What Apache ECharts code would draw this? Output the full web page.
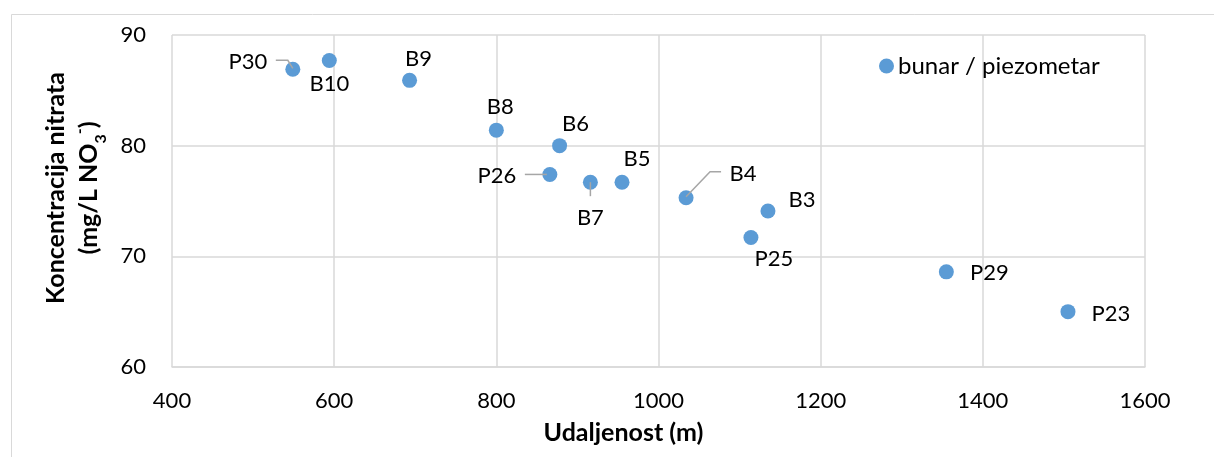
<!DOCTYPE html>
<html>
<head>
<meta charset="utf-8">
<script src="https://cdn.jsdelivr.net/npm/echarts@6/dist/echarts.min.js"></script>
<style>
html,body{margin:0;padding:0;background:#fff;}
#chart{width:1214px;height:457px;}
</style>
</head>
<body>
<div id="chart"></div>
<script>
// ---- data ----
const pointNames = ['P30','B10','B9','B8','B6','P26','B7','B5','B4','B3','P25','P29','P23'];
const distances  = [549, 594, 693, 800, 878, 866, 916, 955, 1034, 1135, 1114, 1355, 1505];
const nitrates   = [86.9, 87.7, 85.9, 81.4, 80.0, 77.4, 76.7, 76.7, 75.3, 74.1, 71.7, 68.6, 65.0];
const xTicks = [400, 600, 800, 1000, 1200, 1400, 1600];
const yTicks = [60, 70, 80, 90];
const seriesName = 'bunar / piezometar';

// ---- label placement (styling, px relative to the point) ----
const labelOffsets = {
  P30: [-45, -7], B10: [0, 23], B9: [9, -21], B8: [4, -23], B6: [16, -22],
  P26: [-53, 1], B7: [0, 36], B5: [15, -23], B4: [57, -24], B3: [34, -11],
  P25: [23, 21], P29: [43, 1], P23: [43, 2]
};
// leader-line shapes (px relative to the point)
const leaderShapes = {
  P30: [[-17, -9], [-5, -9], [0, -1]],
  P26: [[-25, 0], [-3, 0]],
  B7:  [[0, 0], [0, 14]],
  B4:  [[0, -1], [24, -26], [35, -26]]
};

const FONT = 'Lato';
const chart = echarts.init(document.getElementById('chart'), null, {renderer: 'canvas'});

const data = pointNames.map((n, i) => ({
  name: n,
  value: [distances[i], nitrates[i]],
  label: {offset: labelOffsets[n]}
}));
const leaderData = Object.keys(leaderShapes).map(n => {
  const i = pointNames.indexOf(n);
  return [distances[i], nitrates[i], i];
});

chart.setOption({
  animation: false,
  backgroundColor: '#fff',
  textStyle: {fontFamily: FONT},
  graphic: [{
    type: 'rect', left: 9, top: 12, shape: {width: 1300, height: 500},
    style: {fill: 'none', stroke: '#d9d9d9', lineWidth: 1}, silent: true
  }],
  grid: {left: 172, right: 69, top: 35, bottom: 90},
  legend: {
    data: [seriesName], left: 874, top: 49, icon: 'circle', itemWidth: 15, itemHeight: 15,
    itemGap: 6,
    textStyle: {fontFamily: FONT, fontSize: 24, color: '#000', padding: [0,0,0,-1]}
  },
  xAxis: {
    type: 'value', min: xTicks[0], max: xTicks[xTicks.length - 1], interval: 200,
    name: 'Udaljenost (m)', nameLocation: 'middle', nameGap: 53,
    nameTextStyle: {fontFamily: FONT, fontSize: 25, fontWeight: 'bold', color: '#000', padding: [0, 70, 0, 0]},
    axisLine: {show: true, lineStyle: {color: '#d9d9d9', width: 1.5}},
    axisTick: {show: false},
    axisLabel: {fontFamily: FONT, fontSize: 22, color: '#000', margin: 23, formatter: v => String(v)},
    splitLine: {show: true, lineStyle: {color: '#d9d9d9', width: 1.5}}
  },
  yAxis: {
    type: 'value', min: yTicks[0], max: yTicks[yTicks.length - 1], interval: 10,
    name: '{b|Koncentracija nitrata}\n{b|(mg/L NO}{sub|3}{sup|-}{b|)}',
    nameLocation: 'middle', nameGap: 67, nameRotate: 90,
    nameTextStyle: {
      fontFamily: FONT, color: '#000', align: 'center', padding: [0, 0, 0, 26],
      rich: {
        b: {fontFamily: FONT, fontSize: 25, fontWeight: 'bold', color: '#000', lineHeight: 33},
        sub: {fontFamily: FONT, fontSize: 16, fontWeight: 'bold', color: '#000', verticalAlign: 'bottom', lineHeight: 33, padding: [0,0,-4,0]},
        sup: {fontFamily: FONT, fontSize: 16, fontWeight: 'bold', color: '#000', verticalAlign: 'top', lineHeight: 33}
      }
    },
    axisLine: {show: false},
    axisTick: {show: false},
    axisLabel: {fontFamily: FONT, fontSize: 22, color: '#000', margin: 26},
    splitLine: {show: true, lineStyle: {color: '#d9d9d9', width: 1.5}}
  },
  series: [{
    name: seriesName,
    type: 'scatter',
    symbol: 'circle',
    symbolSize: 15,
    itemStyle: {color: '#5B9BD5', opacity: 1},
    data: data,
    label: {
      show: true, position: 'inside', formatter: p => p.name,
      fontFamily: FONT, fontSize: 22, color: '#000'
    },
    z: 2
  }, {
    name: 'leaders',
    type: 'custom',
    silent: true,
    z: 3,
    data: leaderData,
    encode: {x: 0, y: 1},
    renderItem: (params, api) => {
      const p = api.coord([api.value(0), api.value(1)]);
      const shape = leaderShapes[pointNames[api.value(2)]];
      return {
        type: 'polyline',
        shape: {points: shape.map(o => [p[0] + o[0], p[1] + o[1]])},
        style: {stroke: '#a6a6a6', lineWidth: 1.5, fill: null}
      };
    }
  }]
});
</script>
</body>
</html>
